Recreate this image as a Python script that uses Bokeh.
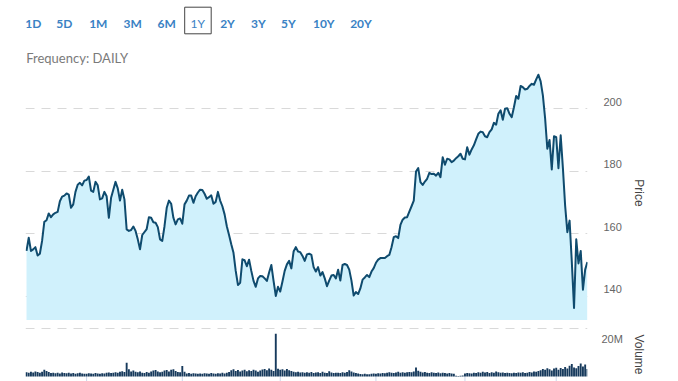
from bokeh.plotting import figure
from bokeh.layouts import column
from bokeh.models import Range1d, LinearAxis, FixedTicker, Grid
from bokeh.core.properties import value
from bokeh.embed import file_html
from bokeh.resources import INLINE

# ---------------- data ----------------
range_buttons = ["1D", "5D", "1M", "3M", "6M", "1Y", "2Y", "3Y", "5Y", "10Y", "20Y"]
selected_range = "1Y"
frequency_label = "Frequency: DAILY"

price_ticks = [140, 160, 180, 200]
volume_ticks = [20]
volume_tick_labels = {20: "20M"}
volume_grid_levels = [31]
month_ticks = [27, 70, 114, 157, 197, 238]

# trading-day index and close price
price_days = [
    0, 1, 2, 3, 4, 5, 6, 7, 8, 9, 10, 11, 12, 13, 14, 15, 16, 17, 18, 19,
    20, 21, 22, 23, 24, 25, 26, 27, 28, 29, 30, 31, 32, 33, 34, 35, 36, 37, 38, 39,
    40, 41, 42, 43, 44, 45, 46, 47, 48, 49, 50, 51, 52, 54, 55, 56, 57, 58, 59,
    60, 61, 62, 63, 64, 65, 66, 67, 68, 69, 70, 71, 72, 73, 74, 75, 76, 77, 78, 79,
    80, 81, 82, 83, 84, 85, 86, 87, 88, 89, 90, 91, 92, 93, 94, 95, 96, 97, 98, 99,
    100, 101, 102, 103, 104, 105, 106, 107, 108, 109, 110, 111, 112, 113, 114, 115, 116, 117, 118, 119,
    120, 121, 122, 123, 124, 125, 126, 127, 128, 129, 130, 131, 132, 133, 134, 135, 136, 137, 138, 139,
    140, 141, 142, 143, 144, 145, 146, 147, 148, 149, 150, 151, 152, 153, 154, 155, 156, 157, 158, 159,
    161, 162, 163, 164, 165, 166, 167, 168, 169, 170, 171, 172, 173, 174, 175, 176, 177, 178, 179,
    180, 181, 182, 183, 184, 185, 186, 187, 188, 189, 190, 191, 192, 193, 194, 195, 196, 197, 198, 199,
    200, 201, 202, 203, 204, 205, 206, 207, 208, 209, 210, 211, 212, 213, 214, 215, 216, 217, 218, 219,
    220, 221, 222, 223, 224, 225, 226, 227, 228, 229, 230, 231, 232, 233, 234, 235, 236, 237, 238, 239,
    240, 241, 242, 243, 244, 245, 246, 247, 248, 249, 250, 251, 252,
]
price_close = [
    154.5, 158.7, 154.5, 155.0, 155.7, 153.0, 153.6, 157.7, 163.8, 164.3, 166.5, 165.3, 166.2, 166.7, 167.0, 170.4, 171.9, 172.2, 172.9, 172.5,
    168.3, 169.4, 173.4, 175.7, 176.3, 175.5, 177.0, 177.2, 178.3, 173.8, 173.4, 176.6, 175.5, 171.0, 171.3, 173.4, 172.0, 165.1, 171.5, 174.1,
    176.6, 174.5, 170.6, 174.1, 171.0, 161.4, 160.9, 161.2, 162.3, 160.9, 158.2, 155.0, 159.6, 161.5, 165.3, 165.1, 163.7, 163.5, 162.1,
    158.2, 157.7, 162.4, 168.3, 170.6, 169.6, 165.1, 163.0, 164.6, 164.9, 163.2, 169.4, 170.6, 172.2, 172.2, 169.9, 172.0, 173.2, 174.1, 174.0,
    172.8, 171.2, 171.7, 172.3, 169.6, 170.2, 173.4, 170.6, 168.8, 166.2, 162.4, 159.6, 156.6, 153.9, 148.1, 143.6, 144.3, 151.8, 151.5, 149.6,
    151.7, 148.1, 144.9, 143.0, 145.7, 146.5, 146.4, 145.7, 144.9, 147.6, 150.0, 144.9, 140.1, 143.0, 141.5, 144.7, 148.1, 150.2, 151.3, 148.9,
    154.3, 155.7, 154.3, 154.1, 152.9, 151.3, 153.4, 153.6, 153.2, 149.3, 147.9, 149.3, 146.6, 147.7, 145.7, 143.2, 145.0, 146.6, 146.8, 145.7,
    148.5, 145.0, 150.0, 150.3, 150.0, 148.5, 145.0, 140.2, 141.3, 140.7, 142.5, 145.3, 146.0, 146.8, 146.1, 147.9, 149.0, 150.7, 151.7, 152.2,
    152.2, 152.8, 153.2, 155.7, 158.9, 159.2, 158.6, 162.8, 164.5, 165.2, 165.3, 167.1, 168.8, 170.6, 179.9, 181.0, 176.5, 175.6, 176.7,
    177.6, 179.5, 179.1, 179.2, 178.6, 179.5, 178.1, 184.5, 182.1, 184.0, 183.8, 182.9, 183.4, 184.2, 184.8, 185.6, 184.0, 183.8, 187.7, 185.3,
    187.0, 188.3, 190.2, 192.0, 192.7, 192.5, 191.2, 190.9, 192.5, 193.4, 195.5, 194.9, 198.4, 199.5, 196.5, 200.0, 200.2, 198.4, 197.3, 200.5,
    204.1, 203.2, 207.3, 206.9, 206.2, 206.4, 207.3, 208.0, 207.7, 209.4, 210.9, 208.8, 204.3, 197.0, 187.2, 190.0, 180.6, 191.2, 190.9, 181.0,
    191.5, 181.0, 169.0, 160.5, 164.2, 151.0, 136.2, 158.2, 150.5, 154.5, 142.1, 148.5, 150.9,
]

# daily volume, millions of shares (one per trading day)
volume_millions = [
    2.8, 2.4, 3.0, 2.6, 3.3, 2.9, 2.5, 3.1, 4.4, 3.6,
    2.9, 2.2, 2.5, 2.1, 2.4, 2.0, 2.6, 2.2, 2.1, 2.5,
    1.9, 2.2, 1.8, 2.1, 2.5, 2.0, 1.8, 1.7, 2.1, 1.9,
    1.8, 2.2, 2.0, 1.7, 2.1, 1.9, 2.4, 2.6, 2.2, 2.5,
    2.7, 2.4, 3.0, 3.4, 2.9, 8.9, 4.6, 3.2, 3.9, 3.1,
    2.7, 3.3, 2.5, 2.3, 2.9, 2.4, 3.2, 3.8, 4.2, 3.3,
    2.8, 3.1, 3.9, 4.2, 3.2, 4.4, 4.7, 3.5, 2.9, 2.7,
    6.8, 3.0, 2.0, 2.3, 1.8, 2.1, 1.9, 1.7, 2.0, 1.8,
    2.1, 1.9, 1.7, 2.2, 2.0, 1.8, 2.1, 1.9, 2.4, 2.0,
    2.5, 2.9, 4.0, 4.6, 3.6, 4.2, 3.3, 3.8, 4.3, 3.4,
    4.1, 3.5, 4.4, 3.9, 3.1, 3.8, 4.5, 4.9, 4.0, 5.2,
    4.4, 3.6, 27.5, 5.0, 4.3, 4.7, 3.8, 4.8, 4.1, 3.5,
    3.1, 2.7, 3.0, 2.6, 2.8, 2.4, 2.7, 2.5, 2.9, 2.3,
    2.6, 2.8, 2.2, 3.1, 2.5, 2.3, 3.4, 2.6, 2.2, 2.4,
    2.5, 2.3, 2.7, 2.4, 2.9, 4.0, 3.3, 2.6, 2.2, 1.9,
    1.6, 1.5, 1.7, 1.4, 1.5, 1.8, 2.0, 1.7, 2.1, 1.9,
    2.3, 2.1, 2.5, 2.7, 2.4, 2.2, 2.6, 3.0, 2.5, 2.8,
    2.4, 2.7, 2.9, 2.8, 3.3, 5.8, 3.7, 3.1, 2.6, 2.9,
    2.5, 2.3, 2.7, 2.4, 2.2, 2.6, 2.1, 2.5, 2.3, 1.9,
    2.2, 2.0, 1.8, 0.5, 0.4, 0.5, 0.6, 1.9, 2.3, 2.1,
    2.0, 2.5, 2.2, 2.8, 2.4, 3.1, 2.6, 2.9, 2.3, 2.7,
    2.5, 3.2, 2.8, 2.4, 2.6, 2.2, 2.5, 2.3, 2.1, 2.4,
    2.2, 2.6, 2.4, 2.7, 2.3, 2.5, 2.9, 2.6, 3.3, 3.0,
    3.5, 4.1, 4.9, 4.3, 5.3, 4.6, 3.9, 5.1, 5.7, 4.4,
    5.5, 4.8, 6.1, 5.2, 6.9, 8.0, 5.8, 5.3, 6.7, 8.3,
    6.5, 7.7, 4.9,
]
volume_days = list(range(len(volume_millions)))

# ---------------- layout / style ----------------
W = 678
HEADER_H, PRICE_H, VOL_H = 65, 255, 61
BORDER_L, BORDER_R = 25, 91
X_START, X_END = -0.45, 252.05
PRICE_LO, PRICE_HI = 132.22, 213.86
LABEL_SHIFT_PRICE = 2.24
VOL_LO, VOL_HI = -3.2, 31.5
LABEL_SHIFT_VOL = 4.4

LINE_COLOR = "#0f4b6e"
FILL_COLOR = "#d0f1fc"
BAR_COLOR = "#173a5c"
GRID_COLOR = "#d9d9d9"
BUTTON_COLOR = "#3a82c4"
TICK_COLOR = "#ccd6eb"

button_x = [32.8, 63.8, 97.8, 132.2, 166.2, 197.2, 227.0, 257.8, 287.8, 323.3, 360.5]
button_y = 22.8

# ---------------- header ----------------
# frame is aligned with the charts below (BORDER_L .. W-BORDER_R); range in pixels
hdr = figure(width=W, height=HEADER_H, x_range=Range1d(BORDER_L, W - BORDER_R),
             y_range=Range1d(HEADER_H, 0),
             output_backend="svg", toolbar_location=None,
             x_axis_location=None, y_axis_location=None,
             min_border_left=BORDER_L, min_border_right=BORDER_R,
             min_border_top=0, min_border_bottom=0, outline_line_color=None)
hdr.grid.visible = False
sel = range_buttons.index(selected_range)
hdr.quad(left=[button_x[sel] - 13], right=[button_x[sel] + 13.5], top=[6.7], bottom=[33.3],
         fill_color="white", line_color="#444444", line_width=1)
other_x = [x for i, x in enumerate(button_x) if i != sel]
other_t = [t for i, t in enumerate(range_buttons) if i != sel]
hdr.text(x=other_x, y=[button_y] * len(other_x), text=other_t,
         text_font=value("Lato"), text_font_size="12px", text_font_style="bold",
         text_color=BUTTON_COLOR, text_align="center", text_baseline="middle")
hdr.text(x=[button_x[sel]], y=[button_y], text=[selected_range],
         text_font=value("Lato"), text_font_size="12px", text_font_style="normal",
         text_color=BUTTON_COLOR, text_align="center", text_baseline="middle")
hdr.text(x=[25.7], y=[57.8], text=[frequency_label],
         text_font=value("Lato"), text_font_size="13px",
         text_color="#7a7a7a", text_align="left", text_baseline="middle")

# ---------------- price ----------------
pf = figure(width=W, height=PRICE_H, x_range=Range1d(X_START, X_END),
            y_range=Range1d(PRICE_LO, PRICE_HI),
            output_backend="svg", toolbar_location=None,
            x_axis_location=None, y_axis_location=None,
            min_border_left=BORDER_L, min_border_right=BORDER_R,
            min_border_top=0, min_border_bottom=0, outline_line_color=None)
pf.grid.visible = False
pf.add_layout(Grid(dimension=1, ticker=FixedTicker(ticks=price_ticks),
                   grid_line_color=GRID_COLOR, grid_line_dash="9 7", grid_line_width=1))
pf.varea(x=price_days, y1=PRICE_LO, y2=price_close, fill_color=FILL_COLOR)
pf.line(x=price_days, y=price_close, line_color=LINE_COLOR, line_width=2, line_join="round")

pf.extra_y_ranges = {"plabels": Range1d(PRICE_LO - LABEL_SHIFT_PRICE, PRICE_HI - LABEL_SHIFT_PRICE)}
pax = LinearAxis(y_range_name="plabels", ticker=FixedTicker(ticks=price_ticks),
                 axis_label="Price",
                 axis_line_color=None, major_tick_line_color=None, minor_tick_line_color=None,
                 major_tick_in=0, major_tick_out=0, major_label_standoff=16,
                 major_label_text_font="Liberation Sans", major_label_text_font_size="11px",
                 major_label_text_color="#666666",
                 axis_label_text_font="Liberation Sans", axis_label_text_font_size="12px",
                 axis_label_text_font_style="normal", axis_label_text_color="#444444",
                 axis_label_standoff=7)
pf.add_layout(pax, "right")

# ---------------- volume ----------------
vf = figure(width=W, height=VOL_H, x_range=pf.x_range, y_range=Range1d(VOL_LO, VOL_HI),
            output_backend="svg", toolbar_location=None,
            x_axis_location=None, y_axis_location=None,
            min_border_left=BORDER_L, min_border_right=BORDER_R,
            min_border_top=7, min_border_bottom=0, outline_line_color=None)
vf.grid.visible = False
vf.add_layout(Grid(dimension=1, ticker=FixedTicker(ticks=volume_grid_levels),
                   grid_line_color=GRID_COLOR, grid_line_dash="9 7", grid_line_width=1))
# month tick marks below the volume baseline
vf.segment(x0=month_ticks, x1=month_ticks, y0=[VOL_LO] * len(month_ticks),
           y1=[0] * len(month_ticks), line_color=TICK_COLOR, line_width=1)
vf.vbar(x=volume_days, top=volume_millions, width=0.85, bottom=0,
        fill_color=BAR_COLOR, line_color=None)
vf.extra_y_ranges = {"vlabels": Range1d(VOL_LO - LABEL_SHIFT_VOL, VOL_HI - LABEL_SHIFT_VOL)}
vax = LinearAxis(y_range_name="vlabels", ticker=FixedTicker(ticks=volume_ticks),
                 major_label_overrides=volume_tick_labels,
                 axis_label="Volume",
                 axis_line_color=None, major_tick_line_color=None, minor_tick_line_color=None,
                 major_tick_in=0, major_tick_out=0, major_label_standoff=14,
                 major_label_text_font="Liberation Sans", major_label_text_font_size="11px",
                 major_label_text_color="#666666",
                 axis_label_text_font="Liberation Sans", axis_label_text_font_size="12px",
                 axis_label_text_font_style="normal", axis_label_text_color="#444444",
                 axis_label_standoff=6)
vf.add_layout(vax, "right")

layout = column(hdr, pf, vf, spacing=0)
open("out.html", "w").write(file_html(layout, INLINE))
